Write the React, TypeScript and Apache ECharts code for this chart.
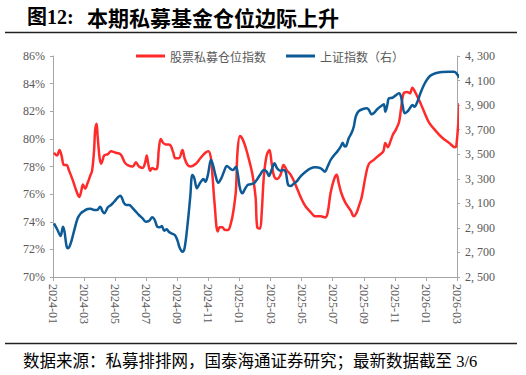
import React, { useEffect, useRef } from "react";
import * as echarts from "echarts";

const titleLabel = "图12:";
const titleText = "本期私募基金仓位边际上升";
const footerText = "数据来源：私募排排网，国泰海通证券研究；最新数据截至 3/6";
const legendNames = ["股票私募仓位指数", "上证指数（右）"];

const redDates = [
  "2024-01-03","2024-01-09","2024-01-14","2024-01-18","2024-01-23","2024-01-28","2024-02-02","2024-02-09","2024-02-15","2024-02-21",
  "2024-02-24","2024-02-28","2024-03-03","2024-03-08","2024-03-13","2024-03-17","2024-03-21","2024-03-23","2024-03-26","2024-03-28",
  "2024-04-01","2024-04-04","2024-04-07","2024-04-10","2024-04-17","2024-04-23","2024-05-02","2024-05-11","2024-05-15","2024-05-20",
  "2024-05-26","2024-06-05","2024-06-11","2024-06-17","2024-06-24","2024-06-29","2024-07-02","2024-07-05","2024-07-09","2024-07-13",
  "2024-07-18","2024-07-23","2024-07-26","2024-07-30","2024-08-04","2024-08-09","2024-08-15","2024-08-19","2024-08-24","2024-08-28",
  "2024-09-04","2024-09-11","2024-09-15","2024-09-21","2024-09-27","2024-10-07","2024-10-16","2024-10-26","2024-11-01","2024-11-06",
  "2024-11-09","2024-11-13","2024-11-19","2024-11-23","2024-11-28","2024-12-03","2024-12-09","2024-12-15","2024-12-20","2024-12-25",
  "2024-12-28","2025-01-02","2025-01-07","2025-01-14","2025-01-20","2025-01-27","2025-02-02","2025-02-05","2025-02-10","2025-02-13",
  "2025-02-17","2025-02-22","2025-02-27","2025-03-03","2025-03-08","2025-03-14","2025-03-21","2025-03-27","2025-04-03","2025-04-10",
  "2025-04-19","2025-04-29","2025-05-09","2025-05-19","2025-05-28","2025-06-08","2025-06-16","2025-06-21","2025-06-27","2025-07-04",
  "2025-07-09","2025-07-13","2025-07-18","2025-07-26","2025-08-06","2025-08-12","2025-08-17","2025-08-22","2025-08-28","2025-09-05",
  "2025-09-11","2025-09-21","2025-09-30","2025-10-09","2025-10-13","2025-10-18","2025-10-23","2025-10-28","2025-11-02","2025-11-09",
  "2025-11-13","2025-11-18","2025-11-25","2025-11-30","2025-12-05","2025-12-09","2025-12-15","2025-12-21","2025-12-28","2026-01-07",
  "2026-01-20","2026-02-02","2026-02-15","2026-02-25","2026-02-28","2026-03-06"
];
const redValues = [
  79.0,78.8,79.2,78.8,78.1,78.1,77.7,77.0,76.3,75.8,
  76.1,76.7,76.4,76.8,77.3,77.7,79.2,80.6,81.1,80.2,
  78.6,78.2,78.5,78.8,78.9,79.1,79.0,78.9,78.7,78.3,
  78.1,78.0,78.3,78.0,77.9,78.3,78.8,78.2,77.7,77.9,
  77.8,77.9,79.2,80.0,79.7,79.6,79.6,79.5,79.0,78.6,
  78.6,79.2,78.6,78.1,78.0,78.2,78.6,79.0,79.1,78.6,
  77.3,75.3,73.3,73.6,73.6,73.4,73.4,73.9,74.8,76.3,
  79.0,80.2,80.0,79.3,78.5,77.4,75.8,73.6,73.5,74.6,
  77.3,78.8,79.2,78.3,77.3,77.1,77.4,78.1,77.7,77.4,
  76.7,75.8,75.1,74.7,74.4,74.4,74.3,74.6,76.1,77.1,
  77.4,76.8,76.1,75.4,74.8,74.4,74.6,75.1,75.8,77.4,
  78.2,78.5,78.8,79.1,79.7,79.4,79.8,80.3,80.6,81.2,
  82.2,83.3,83.4,83.3,83.7,83.5,83.05,82.6,82.0,81.2,
  80.6,80.1,79.7,79.4,79.55,82.6
];

const blueDates = [
  "2024-01-03","2024-01-10","2024-01-16","2024-01-21","2024-01-24","2024-01-28","2024-01-31","2024-02-05","2024-02-11","2024-02-18",
  "2024-02-24","2024-03-01","2024-03-08","2024-03-14","2024-03-21","2024-03-27","2024-04-02","2024-04-07","2024-04-10","2024-04-17",
  "2024-04-23","2024-04-29","2024-05-06","2024-05-11","2024-05-14","2024-05-19","2024-05-24","2024-05-29","2024-06-05","2024-06-11",
  "2024-06-17","2024-06-24","2024-06-30","2024-07-07","2024-07-13","2024-07-18","2024-07-23","2024-07-28","2024-08-01","2024-08-06",
  "2024-08-11","2024-08-15","2024-08-20","2024-08-27","2024-09-01","2024-09-06","2024-09-11","2024-09-15","2024-09-21","2024-09-26",
  "2024-09-30","2024-10-04","2024-10-09","2024-10-13","2024-10-18","2024-10-22","2024-10-26","2024-10-31","2024-11-06","2024-11-10",
  "2024-11-15","2024-11-20","2024-11-26","2024-12-01","2024-12-07","2024-12-13","2024-12-19","2024-12-25","2024-12-29","2025-01-02",
  "2025-01-07","2025-01-11","2025-01-17","2025-01-23","2025-01-30","2025-02-04","2025-02-10","2025-02-17","2025-02-22","2025-02-26",
  "2025-03-03","2025-03-09","2025-03-14","2025-03-20","2025-03-26","2025-03-31","2025-04-05","2025-04-10","2025-04-15","2025-04-21",
  "2025-04-29","2025-05-09","2025-05-19","2025-05-28","2025-06-08","2025-06-16","2025-06-21","2025-06-27","2025-07-04","2025-07-10",
  "2025-07-17","2025-07-21","2025-07-25","2025-07-28","2025-08-02","2025-08-08","2025-08-12","2025-08-16","2025-08-21","2025-08-29",
  "2025-09-07","2025-09-11","2025-09-16","2025-09-21","2025-09-27","2025-10-05","2025-10-10","2025-10-13","2025-10-17","2025-10-20",
  "2025-10-27","2025-11-02","2025-11-09","2025-11-13","2025-11-16","2025-11-20","2025-11-25","2025-11-30","2025-12-05","2025-12-09",
  "2025-12-15","2025-12-21","2025-12-28","2026-01-04","2026-01-10","2026-01-20","2026-02-02","2026-02-15","2026-02-24","2026-02-28",
  "2026-03-06"
];
const blueValues = [
  2937,2883,2834,2910,2869,2752,2734,2774,2869,2978,
  3019,3038,3054,3056,3046,3046,3073,3032,3019,3068,
  3086,3113,3146,3162,3149,3100,3086,3086,3060,3032,
  3005,2978,2950,2958,2986,2964,2910,2905,2915,2877,
  2888,2869,2856,2842,2801,2734,2706,2734,2937,3154,
  3331,3304,3222,3249,3282,3298,3276,3331,3453,3412,
  3323,3268,3304,3358,3404,3385,3371,3398,3331,3222,
  3182,3209,3249,3255,3263,3290,3331,3371,3358,3323,
  3371,3426,3385,3366,3371,3358,3249,3241,3257,3276,
  3320,3358,3385,3393,3385,3358,3398,3453,3494,3521,
  3562,3594,3562,3567,3630,3676,3724,3806,3847,3866,
  3874,3860,3825,3838,3866,3893,3907,3847,3901,3955,
  3960,3977,3996,3968,3901,3833,3847,3874,3901,3887,
  3928,3996,4064,4113,4140,4159,4170,4172,4172,4159,
  4123
];

const xTickMax = 26;

function monthIndex(d: string): number {
  const [y, m, day] = d.split("-").map(Number);
  const dim = new Date(y, m, 0).getDate();
  return (y - 2024) * 12 + (m - 1) + (day - 1) / dim;
}

function monthLabel(v: number): string {
  const y = 2024 + Math.floor(v / 12);
  const m = (v % 12) + 1;
  return `${y}-${String(m).padStart(2, "0")}`;
}

const serif = '"Liberation Serif", "Noto Sans CJK SC", serif';
const cjk = '"Noto Sans CJK SC", sans-serif';

export default function App() {
  const ref = useRef<HTMLDivElement>(null);
  useEffect(() => {
    document.body.style.margin = "0";
    const chart = echarts.init(ref.current!, undefined, { renderer: "svg" });
    const redData = redDates.map((d, i) => [monthIndex(d), redValues[i]]);
    const blueData = blueDates.map((d, i) => [monthIndex(d), blueValues[i]]);
    const axisLineStyle = { color: "#a6a6a6", width: 1 };
    chart.setOption({
      animation: false,
      backgroundColor: "#ffffff",
      grid: { left: 53, right: 69, top: 56, bottom: 98, containLabel: false },
      legend: {
        data: legendNames,
        left: 131,
        top: 45,
        icon: "rect",
        itemWidth: 29,
        itemHeight: 3,
        itemGap: 20,
        textStyle: { fontSize: 12, color: "#595959", fontFamily: cjk },
      },
      xAxis: {
        type: "value",
        min: 0,
        max: xTickMax,
        interval: 2,
        axisLine: { lineStyle: axisLineStyle },
        axisTick: { show: true, length: 4, lineStyle: axisLineStyle },
        splitLine: { show: false },
        axisLabel: {
          rotate: -90,
          margin: 7,
          fontSize: 12,
          color: "#595959",
          fontFamily: serif,
          formatter: (v: number) => monthLabel(v),
        },
      },
      yAxis: [
        {
          type: "value",
          min: 70,
          max: 86,
          interval: 2,
          axisLine: { show: true, lineStyle: axisLineStyle },
          axisTick: { show: true, length: 3, lineStyle: axisLineStyle },
          splitLine: { show: false },
          axisLabel: { fontSize: 12, color: "#595959", fontFamily: serif, margin: 8, formatter: (v: number) => `${v}%` },
        },
        {
          type: "value",
          min: 2500,
          max: 4300,
          interval: 200,
          position: "right",
          axisLine: { show: true, lineStyle: axisLineStyle },
          axisTick: { show: true, length: 3, lineStyle: axisLineStyle },
          splitLine: { show: false },
          axisLabel: {
            fontSize: 12,
            color: "#595959",
            fontFamily: serif,
            margin: 8,
            formatter: (v: number) => `${Math.floor(v / 1000)}, ${String(v % 1000).padStart(3, "0")}`,
          },
        },
      ],
      series: [
        {
          name: legendNames[0],
          type: "line",
          yAxisIndex: 0,
          data: redData,
          smooth: 0.35,
          showSymbol: false,
          clip: false,
          lineStyle: { color: "#ff2a2a", width: 2.5 },
          itemStyle: { color: "#ff2a2a" },
          z: 2,
        },
        {
          name: legendNames[1],
          type: "line",
          yAxisIndex: 1,
          data: blueData,
          smooth: 0.35,
          showSymbol: false,
          clip: false,
          lineStyle: { color: "#0c5a96", width: 2.5 },
          itemStyle: { color: "#0c5a96" },
          z: 3,
        },
      ],
      graphic: [
        {
          type: "text",
          x: 27,
          y: 17,
          style: { text: titleLabel, fontSize: 20, fontWeight: "bold", fill: "#000", fontFamily: serif, verticalAlign: "middle" },
        },
        {
          type: "text",
          x: 87,
          y: 17,
          style: { text: titleText, fontSize: 21, fontWeight: "bold", fill: "#000", fontFamily: cjk, verticalAlign: "middle" },
        },
        {
          type: "line",
          shape: { x1: 5, y1: 32.5, x2: 517, y2: 32.5 },
          style: { stroke: "#222", lineWidth: 1.5 },
        },
        {
          type: "line",
          shape: { x1: 5, y1: 343.5, x2: 517, y2: 343.5 },
          style: { stroke: "#222", lineWidth: 1.5 },
        },
        {
          type: "text",
          left: 23,
          top: 353,
          style: { text: footerText, fontSize: 16.5, fill: "#000", fontFamily: serif },
        },
      ],
    });
    return () => chart.dispose();
  }, []);
  return <div ref={ref} style={{ width: 526, height: 375 }} />;
}
